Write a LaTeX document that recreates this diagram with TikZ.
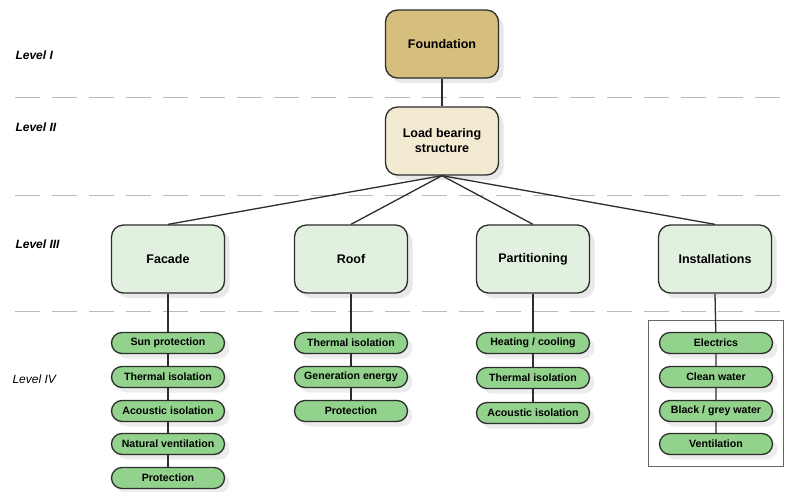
\documentclass[tikz,border=0pt]{standalone}
\usepackage{fontspec}
\setmainfont{Liberation Sans}
\usetikzlibrary{positioning, shadows, fit}
\definecolor{foundTan}{RGB}{214,190,124}
\definecolor{loadCream}{RGB}{243,234,210}
\definecolor{partGreen}{RGB}{226,241,223}
\definecolor{subGreen}{RGB}{146,210,140}
\definecolor{edgeGray}{RGB}{45,45,45}

\begin{document}
\begin{tikzpicture}[x=1pt, y=-1pt,
  big/.style={draw=edgeGray, line width=1.3pt, rounded corners=12pt,
    minimum width=113pt, minimum height=68pt, align=center,
    font=\bfseries\fontsize{12.5}{15}\selectfont,
    drop shadow={opacity=0.18, shadow xshift=5pt, shadow yshift=-5pt}},
  part/.style={big, fill=partGreen},
  sub/.style={draw=edgeGray, line width=1.3pt, fill=subGreen,
    rounded corners=10.5pt, minimum width=113pt, minimum height=21pt,
    inner sep=0pt, font=\bfseries\fontsize{10.6}{12}\selectfont,
    drop shadow={opacity=0.15, shadow xshift=5pt, shadow yshift=-5pt}},
  lvl/.style={anchor=west, font=\bfseries\itshape\fontsize{12}{14}\selectfont},
  sep/.style={draw=gray!55, line width=0.8pt, dash pattern=on 25pt off 12pt},
  link/.style={draw=edgeGray, line width=1.3pt},
]
  \useasboundingbox (0,0) rectangle (785,491);

  % level separators
  \draw[sep] (15,97) -- (785,97);
  \draw[sep] (15,195) -- (785,195);
  \draw[sep] (15,311) -- (785,311);

  \node[lvl] (lvlone) at (12,55) {Level I};
  \node[lvl] (lvltwo) at (12,127) {Level II};
  \node[lvl] (lvlthree) at (12,244) {Level III};
  \node[lvl, font=\itshape\fontsize{12}{14}\selectfont] (lvlfour) at (9,379) {Level IV};

  % levels I and II
  \node[big, fill=foundTan] (found) at (442,44) {Foundation};
  \node[big, fill=loadCream] (load) at (442,141) {Load bearing\\structure};

  % level III
  \node[part] (fac) at (168,259) {Facade};
  \node[part] (roof) at (351,259) {Roof};
  \node[part] (parti) at (533,259) {Partitioning};
  \node[part] (inst) at (715,259) {Installations};

  % level IV
  \node[sub] (f1) at (168,343) {Sun protection};
  \node[sub] (f2) at (168,377) {Thermal isolation};
  \node[sub] (f3) at (168,411) {Acoustic isolation};
  \node[sub] (f4) at (168,444) {Natural ventilation};
  \node[sub] (f5) at (168,478) {Protection};

  \node[sub] (r1) at (351,343) {Thermal isolation};
  \node[sub] (r2) at (351,377) {Generation energy};
  \node[sub] (r3) at (351,411) {Protection};

  \node[sub] (p1) at (533,343) {Heating / cooling};
  \node[sub] (p2) at (533,378) {Thermal isolation};
  \node[sub] (p3) at (533,413) {Acoustic isolation};

  \node[sub] (i1) at (716,343) {Electrics};
  \node[sub] (i2) at (716,377) {Clean water};
  \node[sub] (i3) at (716,411) {Black / grey water};
  \node[sub] (i4) at (716,444) {Ventilation};

  \node[draw=gray!80!black, line width=0.8pt, inner xsep=10pt, inner ysep=11pt,
    fit=(i1)(i4)] (instframe) {};

  % connectors
  \draw[link] (found) -- (load);
  \draw[link] (load.south) -- (fac.north);
  \draw[link] (load.south) -- (roof.north);
  \draw[link] (load.south) -- (parti.north);
  \draw[link] (load.south) -- (inst.north);

  \draw[link] (fac) -- (f1) -- (f2) -- (f3) -- (f4) -- (f5);
  \draw[link] (roof) -- (r1) -- (r2) -- (r3);
  \draw[link] (parti) -- (p1) -- (p2) -- (p3);
  \draw[link] (inst.south) -- (i1) -- (i2) -- (i3) -- (i4);
\end{tikzpicture}
\end{document}
